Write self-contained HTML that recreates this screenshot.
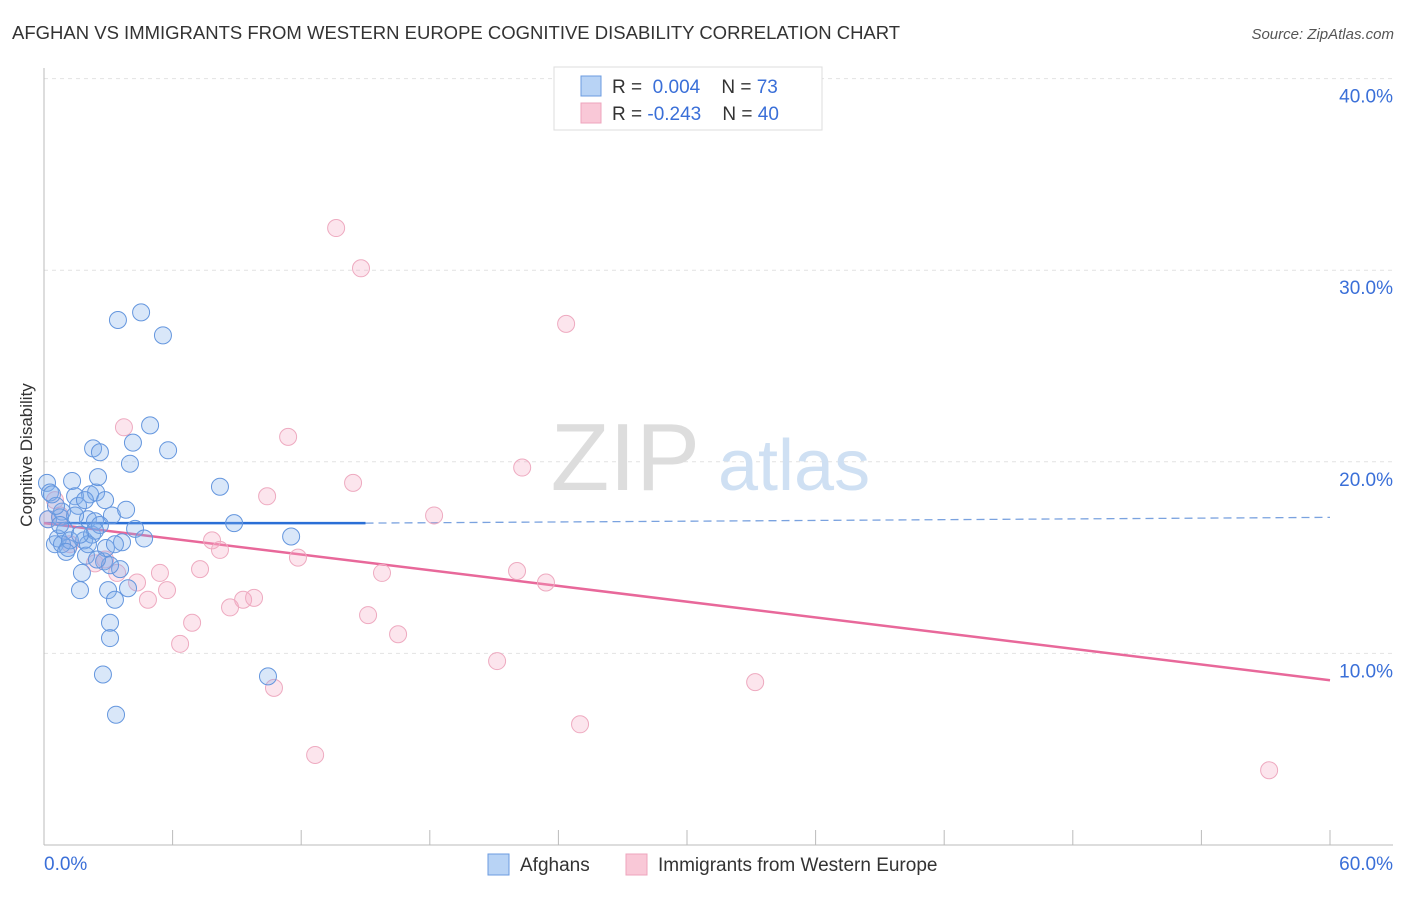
<!DOCTYPE html>
<html><head><meta charset="utf-8"><style>
body{margin:0;background:#fff;font-family:"Liberation Sans",sans-serif;}
svg text{font-family:"Liberation Sans",sans-serif;}
</style></head><body>
<svg width="1406" height="892" viewBox="0 0 1406 892">
<text x="12" y="39" font-size="18.5" fill="#333">AFGHAN VS IMMIGRANTS FROM WESTERN EUROPE COGNITIVE DISABILITY CORRELATION CHART</text>
<text x="1394" y="39" font-size="15" fill="#555" font-style="italic" text-anchor="end">Source: ZipAtlas.com</text>
<g id="grid"></g>
<text x="700" y="490" font-size="96" fill="#ddd" font-family="Liberation Serif" text-anchor="end">ZIP</text>
<text x="718" y="490" font-size="72" fill="#cfe0f3">atlas</text>
<g id="axes"></g>
<g id="lines"></g>
<g id="pts"></g>
<text x="32" y="455" font-size="17" fill="#333" text-anchor="middle" transform="rotate(-90 32 455)">Cognitive Disability</text>
<g>
<rect x="554" y="67" width="268" height="63" fill="#fff" stroke="#ddd"/>
<rect x="581" y="76" width="20" height="20" fill="#b8d3f5" stroke="#6b9be0"/>
<rect x="581" y="103" width="20" height="20" fill="#f9c8d7" stroke="#eea4bc"/>
<text x="612" y="93" font-size="19" fill="#333">R = <tspan fill="#3a6fd8">&#160;0.004</tspan>&#160;&#160;&#160; N = <tspan fill="#3a6fd8"> 73</tspan></text>
<text x="612" y="120" font-size="19" fill="#333">R = <tspan fill="#3a6fd8">-0.243</tspan>&#160;&#160;&#160; N = <tspan fill="#3a6fd8">40</tspan></text>
</g>
<g>
<rect x="488" y="854" width="21" height="21" fill="#b8d3f5" stroke="#6b9be0"/>
<text x="520" y="871" font-size="19" fill="#333">Afghans</text>
<rect x="626" y="854" width="21" height="21" fill="#f9c8d7" stroke="#eea4bc"/>
<text x="658" y="871" font-size="19" fill="#333">Immigrants from Western Europe</text>
</g>
</svg>
<script>
const yTicks=[10,20,30,40];
const yTickLabels=["10.0%","20.0%","30.0%","40.0%"];
const xTickLabels=["0.0%","60.0%"];
const blueX=[0.14,0.28,0.19,0.51,0.65,0.84,0.75,0.98,1.12,1.31,1.45,1.59,1.68,1.77,1.87,1.96,2.05,2.15,2.24,2.29,2.38,2.43,2.52,2.61,2.75,2.80,2.89,2.99,3.08,3.08,3.17,3.31,3.36,3.45,3.55,3.64,3.83,3.92,4.01,4.15,4.25,4.53,4.67,4.95,5.55,5.79,8.21,8.87,10.45,11.53,0.84,1.21,0.56,0.37,2.61,1.91,3.08,2.38,1.45,1.03,2.05,0.75,2.85,1.68,2.47,3.31];
const blueY=[18.9,18.4,17.0,15.7,16.0,17.4,17.1,16.4,15.5,19.0,18.2,17.7,13.3,14.2,15.9,15.1,17.0,18.3,16.2,20.7,16.9,18.4,19.2,20.5,8.9,14.8,15.5,13.3,11.6,10.8,17.2,12.8,6.8,27.4,14.4,15.8,17.5,13.4,19.9,21.0,16.5,27.8,16.0,21.9,26.6,20.6,18.7,16.8,8.8,16.1,15.7,15.9,17.7,18.3,16.7,18.0,14.6,16.4,17.2,15.3,15.7,16.7,18.0,16.2,14.9,15.7];
const pinkX=[0.19,0.51,0.75,1.21,2.38,2.85,3.41,3.73,4.34,4.85,5.41,5.74,6.35,6.91,7.28,7.84,8.21,8.68,9.29,9.80,10.41,10.73,11.39,11.85,12.65,13.63,14.42,14.79,15.12,15.77,16.52,18.20,21.14,22.07,22.31,23.42,24.36,25.01,33.18,57.16];
const pinkY=[17.0,18.0,17.2,15.7,14.7,14.9,14.2,21.8,13.7,12.8,14.2,13.3,10.5,11.6,14.4,15.9,15.4,12.4,12.8,12.9,18.2,8.2,21.3,15.0,4.7,32.2,18.9,30.1,12.0,14.2,11.0,17.2,9.6,14.3,19.7,13.7,27.2,6.3,8.5,3.9];
const blueTrend=[[0,16.8],[15,16.8],[60,17.1]];
const pinkTrend=[[0,16.8],[60,8.6]];
const NS="http://www.w3.org/2000/svg";
const X=v=>44+v/60*1286;
const Y=v=>845-v*19.16;
function mk(tag,attrs,parent){const e=document.createElementNS(NS,tag);for(const k in attrs)e.setAttribute(k,attrs[k]);document.getElementById(parent).appendChild(e);return e;}
yTicks.forEach((t,i)=>{
 let l=mk('line',{x1:44,x2:1393,y1:Y(t),y2:Y(t),stroke:'#e2e2e2','stroke-dasharray':'4,4'},'grid');
 
 
 let tx=mk('text',{x:1393,y:Y(t)+24,'font-size':19,fill:'#3a6fd8','text-anchor':'end'},'grid');
 tx.textContent=yTickLabels[i];
 
 
});
let a1=mk('line',{x1:44,x2:44,y1:68,y2:845,stroke:'#bbb'},'axes');


let a2=mk('line',{x1:44,x2:1393,y1:845,y2:845,stroke:'#bbb'},'axes');


for(let i=0;i<=10;i++){let t=mk('line',{x1:X(i*6),x2:X(i*6),y1:830,y2:845,stroke:'#bbb'},'axes');
 
 }
[[0,'start',44],[60,'end',1393]].forEach((d,i)=>{let t=mk('text',{x:d[2],y:870,'font-size':19,fill:'#3a6fd8','text-anchor':d[1]},'axes');t.textContent=xTickLabels[i];
 
 });
function pts(xs,ys,fill,stroke,name){xs.forEach((x,i)=>{let c=mk('circle',{cx:X(x),cy:Y(ys[i]),r:8.5,fill:fill,stroke:stroke,'stroke-width':1},'pts');
 
 });}
pts(pinkX,pinkY,'rgba(245,170,195,0.3)','#eeaac0','point-immigrants');
pts(blueX,blueY,'rgba(130,175,235,0.3)','#6496de','point-afghans');
let b1=mk('line',{x1:X(blueTrend[0][0]),y1:Y(blueTrend[0][1]),x2:X(blueTrend[1][0]),y2:Y(blueTrend[1][1]),stroke:'#2a6fd6','stroke-width':2.5},'lines');


let b2=mk('line',{x1:X(blueTrend[1][0]),y1:Y(blueTrend[1][1]),x2:X(blueTrend[2][0]),y2:Y(blueTrend[2][1]),stroke:'#7aa2df','stroke-width':1.3,'stroke-dasharray':'8,5'},'lines');


let p1=mk('line',{x1:X(pinkTrend[0][0]),y1:Y(pinkTrend[0][1]),x2:X(pinkTrend[1][0]),y2:Y(pinkTrend[1][1]),stroke:'#e8689a','stroke-width':2.5},'lines');


</script>
</body></html>
